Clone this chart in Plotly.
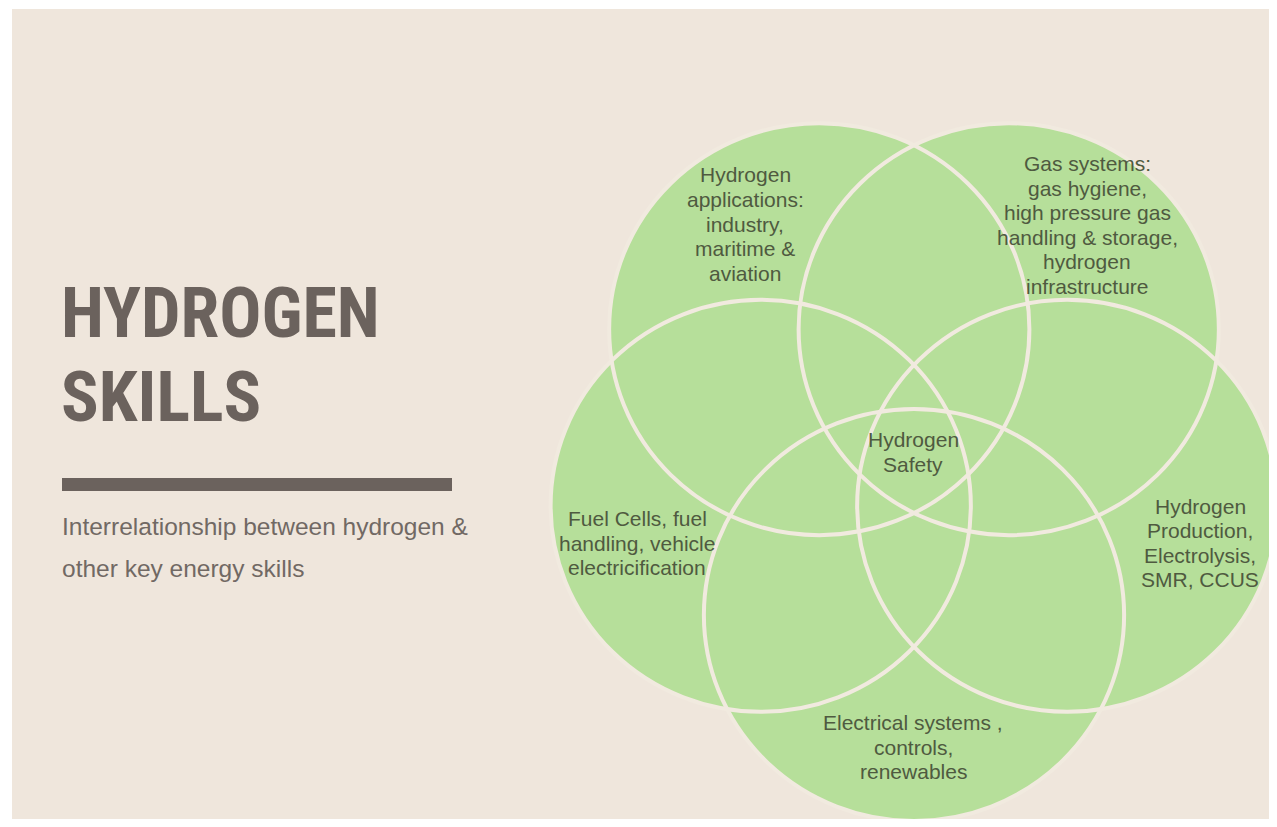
import math
import plotly.graph_objects as go

# ---------------- data ----------------
title_lines = ["HYDROGEN", "SKILLS"]
subtitle_lines = ["Interrelationship between hydrogen &", "other key energy skills"]

skill_sets = [
    ["Hydrogen", "applications:", "industry,", "maritime &", "aviation"],
    ["Gas systems:", "gas hygiene,", "high pressure gas", "handling & storage,", "hydrogen", "infrastructure"],
    ["Hydrogen", "Production,", "Electrolysis,", "SMR, CCUS"],
    ["Electrical systems ,", "controls,", "renewables"],
    ["Fuel Cells, fuel", "handling, vehicle", "electricification"],
]
core_skill = ["Hydrogen", "Safety"]

# ---------------- layout / style ----------------
BG = "#EFE6DC"
GREEN = "#B6DF9A"
RING = "#F1EADF"
TITLE_C = "#6B625D"
SUB_C = "#716964"
LABEL_C = "#4F5A40"

# pentagon arrangement of the five sets (screen angles, y down)
angles = [-126, -54, 18, 90, 162]
ox, oy = 914, 457          # centre of arrangement
R = 158                    # pentagon radius
kx = 1.02                  # slight horizontal stretch
ry = 206
rx = ry * kx

# label anchor points for each set (layout positions)
label_pos = [(745, 224), (1087, 225), (1200, 543), (913, 747), (637, 543)]
core_pos = (913, 452)
LINE_STEP = 24.6

# the page adds an 8px body margin; the figure covers window pixels 8..1269 x 8..819
W, H = 1261, 811
X0, Y0 = 8, 8

fig = go.Figure()

shapes = []
shapes.append(dict(type="rect", xref="x", yref="y", x0=12, x1=1290, y0=9, y1=840,
                   fillcolor=BG, line=dict(width=0), layer="below"))
shapes.append(dict(type="rect", xref="x", yref="y", x0=62, x1=452, y0=478, y1=491,
                   fillcolor=TITLE_C, line=dict(width=0)))

centres = []
for a in angles:
    t = math.radians(a)
    centres.append((ox + R * math.cos(t) * kx, oy + R * math.sin(t)))

for cx, cy in centres:
    shapes.append(dict(type="circle", xref="x", yref="y",
                       x0=cx - rx, x1=cx + rx, y0=cy - ry, y1=cy + ry,
                       fillcolor=GREEN, line=dict(width=0)))
for cx, cy in centres:
    shapes.append(dict(type="circle", xref="x", yref="y",
                       x0=cx - rx, x1=cx + rx, y0=cy - ry, y1=cy + ry,
                       fillcolor="rgba(0,0,0,0)", line=dict(color=RING, width=4)))

annotations = []
label_font = dict(family="Liberation Sans, Arial, sans-serif", size=21, color=LABEL_C)


def add_label(lines, cx, cy):
    n = len(lines)
    for i, line in enumerate(lines):
        annotations.append(dict(x=cx, y=cy + (i - (n - 1) / 2) * LINE_STEP, xref="x", yref="y",
                                text=line, showarrow=False, xanchor="center",
                                yanchor="middle", font=label_font))


for lines, (lx, ly) in zip(skill_sets, label_pos):
    add_label(lines, lx, ly)
add_label(core_skill, *core_pos)

title_font = dict(family="Roboto Condensed, Liberation Sans Narrow, Liberation Sans, sans-serif",
                  size=70, color=TITLE_C, weight="bold")
for txt, ty in zip(title_lines, [313, 397]):
    annotations.append(dict(x=59, y=ty, xref="x", yref="y", text=txt, showarrow=False,
                            xanchor="left", yanchor="middle", font=title_font))

sub_font = dict(family="Liberation Sans, Arial, sans-serif", size=24.5, color=SUB_C)
for txt, sy in zip(subtitle_lines, [526, 568]):
    annotations.append(dict(x=60, y=sy, xref="x", yref="y", text=txt, showarrow=False,
                            xanchor="left", yanchor="middle", font=sub_font))

fig.update_layout(
    width=W, height=H,
    margin=dict(l=0, r=0, t=0, b=0),
    paper_bgcolor="white", plot_bgcolor="white",
    xaxis=dict(range=[X0, X0 + W], visible=False, fixedrange=True),
    yaxis=dict(range=[Y0 + H, Y0], visible=False, fixedrange=True),
    shapes=shapes, annotations=annotations,
    showlegend=False,
)

fig.write_html("out.html")
